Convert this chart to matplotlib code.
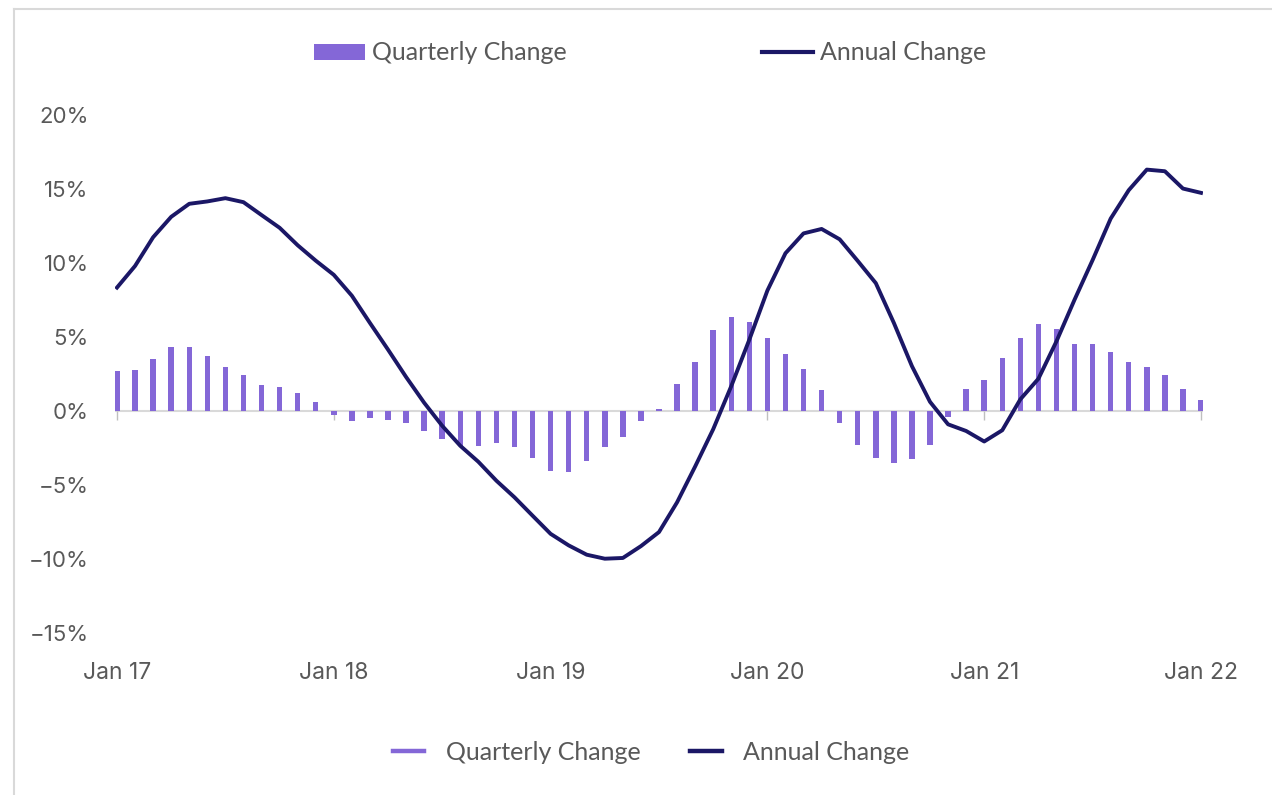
import matplotlib.pyplot as plt
import numpy as np
from matplotlib.lines import Line2D
from matplotlib.patches import Patch

# Monthly data, Jan 2017 .. Jan 2022 (61 points)
quarterly_change = [2.7, 2.8, 3.5, 4.3, 4.3, 3.7, 3.0, 2.4, 1.75, 1.65, 1.2, 0.6,
                    -0.3, -0.67, -0.5, -0.58, -0.8, -1.35, -1.9, -2.35, -2.35, -2.17, -2.42, -3.2,
                    -4.04, -4.1, -3.38, -2.42, -1.73, -0.69, 0.14, 1.82, 3.32, 5.5, 6.35, 6.0,
                    4.94, 3.88, 2.85, 1.39, -0.83, -2.3, -3.2, -3.52, -3.27, -2.3, -0.43, 1.48,
                    2.1, 3.55, 4.93, 5.85, 5.52, 4.56, 4.56, 3.97, 3.34, 3.0, 2.42, 1.52, 0.74]
annual_change = [8.34, 9.8, 11.74, 13.12, 14.0, 14.16, 14.38, 14.11, 13.24, 12.38, 11.2, 10.16,
                 9.2, 7.79, 5.95, 4.15, 2.3, 0.56, -1.0, -2.35, -3.43, -4.71, -5.83, -7.07,
                 -8.3, -9.08, -9.71, -9.98, -9.93, -9.13, -8.18, -6.17, -3.75, -1.23, 1.68, 4.82,
                 8.14, 10.66, 12.0, 12.3, 11.6, 10.14, 8.64, 5.95, 3.03, 0.62, -0.9, -1.35,
                 -2.06, -1.3, 0.79, 2.18, 4.71, 7.52, 10.2, 13.0, 14.92, 16.31, 16.2, 15.03, 14.74]
x_tick_labels = ['Jan 17', 'Jan 18', 'Jan 19', 'Jan 20', 'Jan 21', 'Jan 22']
y_ticks = [-15, -10, -5, 0, 5, 10, 15, 20]

BAR_COLOR = '#8467D7'
LINE_COLOR = '#1B1766'
TEXT_COLOR = '#595959'

W, H = 1272, 795
fig = plt.figure(figsize=(W / 100, H / 100), dpi=100)
ax = fig.add_axes([115 / W, 1 - 633 / H, 1088 / W, (633 - 115) / H])

x = np.arange(len(quarterly_change))
ax.bar(x, quarterly_change, width=0.3, color=BAR_COLOR, zorder=2)
ax.axhline(0, color='#d9d9d9', lw=1.5, zorder=1)
ax.plot(x, annual_change, color=LINE_COLOR, lw=2.8, zorder=3, solid_joinstyle='round')

tick_pos = x[::12]
ax.vlines(tick_pos, -0.6, 0, color='#bfbfbf', lw=1, zorder=1)

ax.set_xlim(-0.11, 60.11)
ax.set_ylim(-15, 20)
ax.set_xticks(tick_pos)
ax.set_xticklabels(x_tick_labels)
ax.set_yticks(y_ticks)
ax.set_yticklabels([f'{v}%'.replace('-', '\u2212') for v in y_ticks])
ax.tick_params(axis='x', length=0, pad=21, labelsize=16.5, labelcolor=TEXT_COLOR)
ax.tick_params(axis='y', length=0, pad=19, labelsize=16, labelcolor=TEXT_COLOR)
for lab in ax.get_xticklabels() + ax.get_yticklabels():
    lab.set_family('Inter')
for s in ax.spines.values():
    s.set_visible(False)

# top legend
top_handles = [Patch(facecolor=BAR_COLOR), Line2D([], [], color=LINE_COLOR, lw=3)]
fig.legend(top_handles, ['Quarterly Change', 'Annual Change'], loc='center',
           bbox_to_anchor=(0.5 + 14 / W, 1 - 53 / H), ncol=2, frameon=False,
           prop={'family': 'Lato', 'size': 18}, labelcolor=TEXT_COLOR,
           handlelength=2.05, handleheight=0.6, handletextpad=0.28, columnspacing=7.8)

# bottom legend
bottom_handles = [Line2D([], [], color=BAR_COLOR, lw=3.2), Line2D([], [], color=LINE_COLOR, lw=3.2)]
fig.legend(bottom_handles, ['Quarterly Change', 'Annual Change'], loc='center',
           bbox_to_anchor=(0.5 + 15 / W, 1 - 752 / H), ncol=2, frameon=False,
           prop={'family': 'Lato', 'size': 18}, labelcolor=TEXT_COLOR,
           handlelength=1.25, handletextpad=0.85, columnspacing=2.0)

# light frame at top and left
fig.add_artist(Line2D([14 / W, 1], [1 - 9 / H, 1 - 9 / H], color='#d9d9d9', lw=1.5))
fig.add_artist(Line2D([14 / W, 14 / W], [0, 1 - 9 / H], color='#d9d9d9', lw=1.5))

fig.savefig('out.png', dpi=100, facecolor='white')
